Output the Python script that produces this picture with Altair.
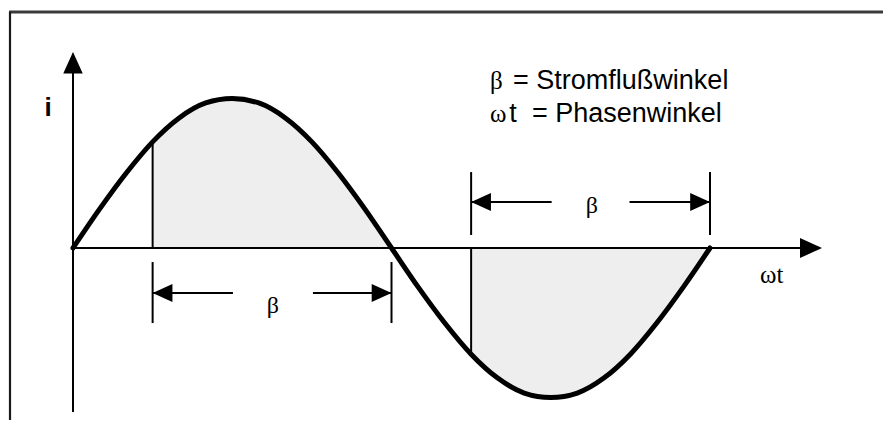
import altair as alt
import pandas as pd

# ---- data ----
phase_deg = [0, 15, 30, 45, 60, 75, 90, 105, 120, 135, 150, 165, 180,
             195, 210, 225, 240, 255, 270, 285, 300, 315, 330, 345, 360]
current = [0.0, 0.26, 0.50, 0.71, 0.87, 0.97, 1.0, 0.97, 0.87, 0.71, 0.50, 0.26, 0.0,
           -0.26, -0.50, -0.71, -0.87, -0.97, -1.0, -0.97, -0.87, -0.71, -0.50, -0.26, 0.0]

firing_deg = [45, 225]          # start of current flow
extinction_deg = [180, 360]     # end of current flow
firing_current = [0.71, -0.71]

axis_labels = ["i", "ωt"]
legend_symbols = ["β", "ω"]
legend_texts = ["= Stromflußwinkel", "= Phasenwinkel"]
beta_label = "β"

# ---- tables ----
curve = pd.DataFrame({"deg": phase_deg, "i": current})

area_rows = []
for g, (a, e) in enumerate(zip(firing_deg, extinction_deg)):
    for d, v in zip(phase_deg, current):
        if a <= d <= e:
            area_rows.append({"deg": d, "i": v, "zero": 0.0, "g": g})
area_df = pd.DataFrame(area_rows)

W, H = 875, 412
xs = alt.Scale(domain=[-36.735, 457.77], nice=False, zero=False)
ys = alt.Scale(domain=[-1.1505, 1.6054], nice=False, zero=False)

def X(f):
    return alt.X(f, type="quantitative", scale=xs, axis=None)

def Y(f):
    return alt.Y(f, type="quantitative", scale=ys, axis=None)

# annotation segments (axes, firing lines, dimension lines) in data units
segs = [
    # axes
    (0, -1.097, 0, 1.30),
    (0, 0, 422.0, 0),
]
for a, v in zip(firing_deg, firing_current):
    segs.append((a, 0, a, v))
# lower dimension (first half wave)
segs += [(45, -0.094, 45, -0.502), (180, -0.094, 180, -0.502),
         (45, -0.301, 90.4, -0.301), (135.6, -0.301, 180, -0.301)]
# upper dimension (second half wave)
segs += [(225, 0.087, 225, 0.508), (360, 0.087, 360, 0.508),
         (225, 0.308, 270.5, 0.308), (314.5, 0.308, 360, 0.308)]
seg_df = pd.DataFrame(segs, columns=["x", "y", "x2", "y2"])

frame_top = alt.Chart(pd.DataFrame({"a": [0]})).mark_rule(
    color="#3a3a3a", strokeWidth=3).encode(
    x=alt.value(1), x2=alt.value(875), y=alt.value(4))
frame_left = alt.Chart(pd.DataFrame({"a": [0]})).mark_rule(
    color="#1a1a1a", strokeWidth=2.2).encode(
    x=alt.value(2), y=alt.value(4), y2=alt.value(412))

shade = alt.Chart(area_df).mark_area(
    color="#eeeeee", opacity=1, interpolate="monotone").encode(
    x=X("deg"), y=Y("i"), y2=alt.Y2("zero"), detail="g:N")

rules = alt.Chart(seg_df).mark_rule(color="black", strokeWidth=2).encode(
    x=X("x"), y=Y("y"), x2=alt.X2("x2"), y2=alt.Y2("y2"))

line = alt.Chart(curve).mark_line(
    color="black", strokeWidth=5, interpolate="monotone", strokeCap="round").encode(
    x=X("deg"), y=Y("i"))

def arrows(df, shape, size):
    return alt.Chart(df).mark_point(
        shape=shape, filled=True, size=size, color="black", opacity=1, strokeWidth=0
    ).encode(x=X("x"), y=Y("y"))

right_shape = "M0,0L-2.2,-1L-2.2,1Z"
left_shape = "M0,0L2.2,-1L2.2,1Z"
up_shape = "M0,0L-1,2.2L1,2.2Z"

arr_up = arrows(pd.DataFrame({"x": [0], "y": [1.311]}), up_shape, 380)
arr_right_axis = arrows(pd.DataFrame({"x": [423.3], "y": [0]}), right_shape, 400)
arr_right_dim = arrows(pd.DataFrame({"x": [180, 360], "y": [-0.301, 0.308]}), right_shape, 324)
arr_left_dim = arrows(pd.DataFrame({"x": [45, 225], "y": [-0.301, 0.308]}), left_shape, 324)

lbl_i = alt.Chart(pd.DataFrame({"x": [-14.1], "y": [0.936], "t": [axis_labels[0]]})).mark_text(
    font="Liberation Sans", fontWeight="bold", fontSize=26, align="center",
    baseline="middle", color="black").encode(x=X("x"), y=Y("y"), text="t:N")

lbl_wt = alt.Chart(pd.DataFrame({"x": [388.3], "y": [-0.234], "t": [axis_labels[1]]})).mark_text(
    font="Liberation Serif", fontSize=25, align="left",
    baseline="alphabetic", color="black").encode(x=X("x"), y=Y("y"), text="t:N")

lbl_beta = alt.Chart(pd.DataFrame({"x": [113.0, 293.3], "y": [-0.435, 0.234],
                                   "t": [beta_label, beta_label]})).mark_text(
    font="Liberation Serif", fontSize=24, align="center",
    baseline="alphabetic", color="black").encode(x=X("x"), y=Y("y"), text="t:N")

leg_sym = alt.Chart(pd.DataFrame({"x": [235.7, 235.7], "y": [1.064, 0.843],
                                  "t": legend_symbols})).mark_text(
    font="Liberation Serif", fontSize=25, align="left",
    baseline="alphabetic", color="black").encode(x=X("x"), y=Y("y"), text="t:N")

leg_t = alt.Chart(pd.DataFrame({"x": [246.6], "y": [0.843], "t": ["t"]})).mark_text(
    font="Liberation Sans", fontSize=27, align="left",
    baseline="alphabetic", color="black").encode(x=X("x"), y=Y("y"), text="t:N")

leg_txt = alt.Chart(pd.DataFrame({"x": [248.7, 259.4], "y": [1.064, 0.843],
                                  "t": legend_texts})).mark_text(
    font="Liberation Sans", fontSize=27, align="left",
    baseline="alphabetic", color="black").encode(x=X("x"), y=Y("y"), text="t:N")

chart = alt.layer(
    frame_top, frame_left, shade, rules, line,
    arr_up, arr_right_axis, arr_right_dim, arr_left_dim,
    lbl_i, lbl_wt, lbl_beta, leg_sym, leg_t, leg_txt
).properties(
    width=W, height=H, padding=0, autosize=alt.AutoSizeParams(type="none"),
    background="white"
).configure_view(stroke=None)

chart.save("out.html", embed_options={"renderer": "svg", "actions": False})
